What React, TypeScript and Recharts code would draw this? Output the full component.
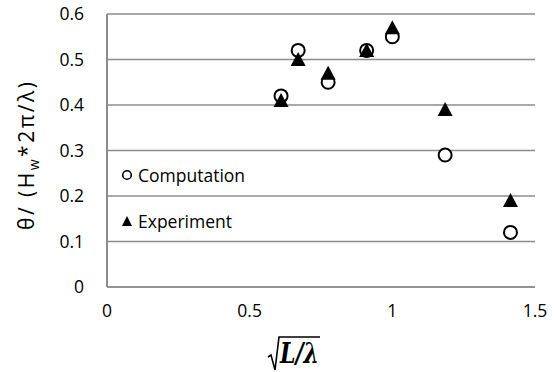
import React from 'react';
import { ScatterChart, Scatter, XAxis, YAxis, CartesianGrid } from 'recharts';

// sqrt(L/lambda) positions shared by both series
const xValues = [0.61, 0.67, 0.775, 0.91, 1.0, 1.185, 1.414];
const computation = [0.42, 0.52, 0.45, 0.52, 0.55, 0.29, 0.12];
const experiment = [0.41, 0.5, 0.47, 0.52, 0.57, 0.39, 0.19];
const xTicks = [0, 0.5, 1, 1.5];
const yTicks = [0, 0.1, 0.2, 0.3, 0.4, 0.5, 0.6];

const compData = xValues.map((x, i) => ({ x, y: computation[i] }));
const expData = xValues.map((x, i) => ({ x, y: experiment[i] }));

const FONT = '"Open Sans", Lato, sans-serif';
const GRID = '#8c8c8c';

const CircleMark = (props: any) => (
  <circle cx={props.cx} cy={props.cy} r={6.5} fill="#fff" stroke="#000" strokeWidth={2} />
);

const TriangleMark = (props: any) => {
  const { cx, cy } = props;
  return <path d={`M${cx},${cy - 7.5} L${cx + 7.5},${cy + 6.5} L${cx - 7.5},${cy + 6.5} Z`} fill="#000" />;
};

const YLabel = () => (
  <text transform="translate(34,156) rotate(-90)" textAnchor="middle" fontFamily={FONT} fontSize={21} fill="#000"
    textLength={148} lengthAdjust="spacing">
    θ/ (H<tspan fontSize={14} dy={5}>w</tspan>
    <tspan dy={-5}>*2π/λ)</tspan>
  </text>
);

const XLabel = () => (
  <g>
    <path d="M268,357 L271,355 L275,370 L279,337 L320,337" fill="none" stroke="#000" strokeWidth={1.6} />
    <text x={280} y={363} fontFamily='"DejaVu Serif", serif' fontStyle="italic" fontWeight="bold" fontSize={28}
      textLength={39} lengthAdjust="spacingAndGlyphs" fill="#000">
      L/λ
    </text>
  </g>
);

const legendRow: React.CSSProperties = { display: 'flex', alignItems: 'center', height: 46 };

const LegendBox = () => (
  <div style={{ position: 'absolute', left: 121, top: 152, fontFamily: FONT, fontSize: 17.5, color: '#000' }}>
    <div style={legendRow}>
      <svg width={12} height={12} style={{ marginRight: 5 }}>
        <circle cx={6} cy={6} r={4.3} fill="#fff" stroke="#000" strokeWidth={1.6} />
      </svg>
      Computation
    </div>
    <div style={legendRow}>
      <svg width={12} height={12} style={{ marginRight: 5 }}>
        <path d="M6,1 L11,11 L1,11 Z" fill="#000" />
      </svg>
      Experiment
    </div>
  </div>
);

export default function App() {
  return (
    <div style={{ position: 'absolute', left: 0, top: 0, width: 556, height: 372, background: '#fff' }}>
      <ScatterChart width={556} height={372} margin={{ top: 14, right: 21, bottom: 55, left: 0 }}>
        <CartesianGrid vertical={false} stroke={GRID} strokeWidth={1.5} />
        <XAxis type="number" dataKey="x" domain={[0, 1.5]} ticks={xTicks} height={30}
          axisLine={{ stroke: GRID, strokeWidth: 1.5 }} tickLine={false} tickSize={0} tickMargin={18}
          tick={{ fontFamily: FONT, fontSize: 17.5, fill: '#000' }} label={{ content: () => <XLabel /> }} />
        <YAxis type="number" dataKey="y" domain={[0, 0.6]} ticks={yTicks} width={107}
          axisLine={{ stroke: GRID, strokeWidth: 2 }} tickLine={false} tickSize={0} tickMargin={23}
          tick={{ fontFamily: FONT, fontSize: 17.5, fill: '#000' }} label={{ content: () => <YLabel /> }} />
        <Scatter name="Computation" data={compData} shape={CircleMark} isAnimationActive={false} />
        <Scatter name="Experiment" data={expData} shape={TriangleMark} isAnimationActive={false} />
      </ScatterChart>
      <LegendBox />
    </div>
  );
}
